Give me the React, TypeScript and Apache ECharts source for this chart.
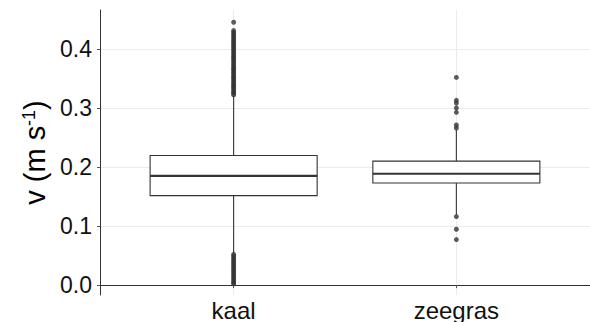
import React, { useEffect, useRef } from 'react';
import * as echarts from 'echarts';

const categories = ['kaal', 'zeegras'];
const categoryPositions = [1, 2];
// [whiskerLow, q1, median, q3, whiskerHigh]
const boxStats = [
  [0.054, 0.1514, 0.185, 0.2194, 0.32],
  [0.119, 0.1727, 0.1885, 0.2098, 0.263],
];
const kaalOutliers = [
  0.002, 0.004, 0.007, 0.01, 0.013, 0.016, 0.019, 0.022, 0.025, 0.028, 0.031, 0.034,
  0.037, 0.04, 0.043, 0.046, 0.049, 0.052,
  0.322, 0.325, 0.327, 0.33, 0.333, 0.336, 0.338, 0.341, 0.344, 0.347, 0.35, 0.352,
  0.355, 0.358, 0.361, 0.364, 0.366, 0.369, 0.372, 0.375, 0.378, 0.381, 0.384, 0.386,
  0.389, 0.392, 0.395, 0.398, 0.401, 0.404, 0.407, 0.41, 0.413, 0.416, 0.419, 0.422,
  0.425, 0.428, 0.431, 0.445,
];
const zeegrasOutliers = [0.077, 0.0945, 0.116, 0.266, 0.271, 0.2925, 0.3, 0.3083, 0.3128, 0.3516];
const yTicks = [0, 0.1, 0.2, 0.3, 0.4];

const FONT = 'Liberation Sans, Arial, sans-serif';

export default function App() {
  const ref = useRef<HTMLDivElement>(null);
  useEffect(() => {
    if (!ref.current) return;
    const chart = echarts.init(ref.current, undefined, { renderer: 'svg' });
    const boxData = boxStats.map((s, i) => [categoryPositions[i], ...s]);
    const outlierData = [
      ...kaalOutliers.map((v) => [categoryPositions[0], v]),
      ...zeegrasOutliers.map((v) => [categoryPositions[1], v]),
    ];
    chart.setOption({
      animation: false,
      backgroundColor: '#ffffff',
      textStyle: { fontFamily: FONT },
      grid: { left: 100, top: 10, width: 495, height: 286, containLabel: false },
      xAxis: {
        type: 'value',
        min: 0.4,
        max: 2.6,
        axisLine: { show: true, lineStyle: { color: '#333', width: 1 } },
        axisTick: { show: true, length: 3, customValues: categoryPositions, lineStyle: { color: '#555' } },
        axisLabel: {
          customValues: categoryPositions,
          formatter: (v: number) => categories[Math.round(v) - 1] ?? '',
          fontSize: 24,
          color: '#111',
          margin: 3,
          fontFamily: FONT,
        },
        splitLine: { show: true, lineStyle: { color: '#ebebeb', width: 1 } },
      },
      yAxis: {
        type: 'value',
        min: -0.01688,
        max: 0.4658,
        name: '{a|v (m s}{b|-1}{a|)}',
        nameLocation: 'middle',
        nameGap: 48,
        nameRotate: 90,
        nameTextStyle: {
          fontFamily: FONT,
          color: '#000',
          rich: {
            a: { fontSize: 29, fontFamily: FONT, color: '#000' },
            b: { fontSize: 18, fontFamily: FONT, color: '#000', verticalAlign: 'top' },
          },
        },
        axisLine: { show: true, lineStyle: { color: '#333', width: 1 } },
        axisTick: { show: true, length: 3, customValues: yTicks, lineStyle: { color: '#555' } },
        axisLabel: {
          customValues: yTicks,
          formatter: (v: number) => v.toFixed(1),
          fontSize: 23,
          color: '#111',
          margin: 8,
          fontFamily: FONT,
        },
        splitLine: { show: true, lineStyle: { color: '#ebebeb', width: 1 } },
      },
      series: [
        {
          type: 'custom',
          data: boxData,
          encode: { x: 0, y: [1, 2, 3, 4, 5] },
          renderItem: (params: any, api: any) => {
            const x = api.value(0);
            const lo = api.value(1);
            const q1 = api.value(2);
            const med = api.value(3);
            const q3 = api.value(4);
            const hi = api.value(5);
            const pLo = api.coord([x, lo]);
            const pQ1 = api.coord([x, q1]);
            const pQ3 = api.coord([x, q3]);
            const pHi = api.coord([x, hi]);
            const tl = api.coord([x - 0.375, q3]);
            const br = api.coord([x + 0.375, q1]);
            const ml = api.coord([x - 0.375, med]);
            const mr = api.coord([x + 0.375, med]);
            const stroke = '#333';
            return {
              type: 'group',
              children: [
                { type: 'line', shape: { x1: pLo[0], y1: pLo[1], x2: pQ1[0], y2: pQ1[1] }, style: { stroke, lineWidth: 1.1 } },
                { type: 'line', shape: { x1: pQ3[0], y1: pQ3[1], x2: pHi[0], y2: pHi[1] }, style: { stroke, lineWidth: 1.1 } },
                {
                  type: 'rect',
                  shape: { x: tl[0], y: tl[1], width: br[0] - tl[0], height: br[1] - tl[1] },
                  style: { fill: '#ffffff', stroke, lineWidth: 1.1 },
                },
                { type: 'line', shape: { x1: ml[0], y1: ml[1], x2: mr[0], y2: mr[1] }, style: { stroke, lineWidth: 2.2 } },
              ],
            };
          },
        },
        {
          type: 'scatter',
          data: outlierData,
          symbol: 'circle',
          symbolSize: 5,
          itemStyle: { color: '#333' },
          z: 3,
        },
      ],
    });
    return () => chart.dispose();
  }, []);
  return <div ref={ref} style={{ position: 'fixed', left: 0, top: 0, width: 590, height: 322 }} />;
}
